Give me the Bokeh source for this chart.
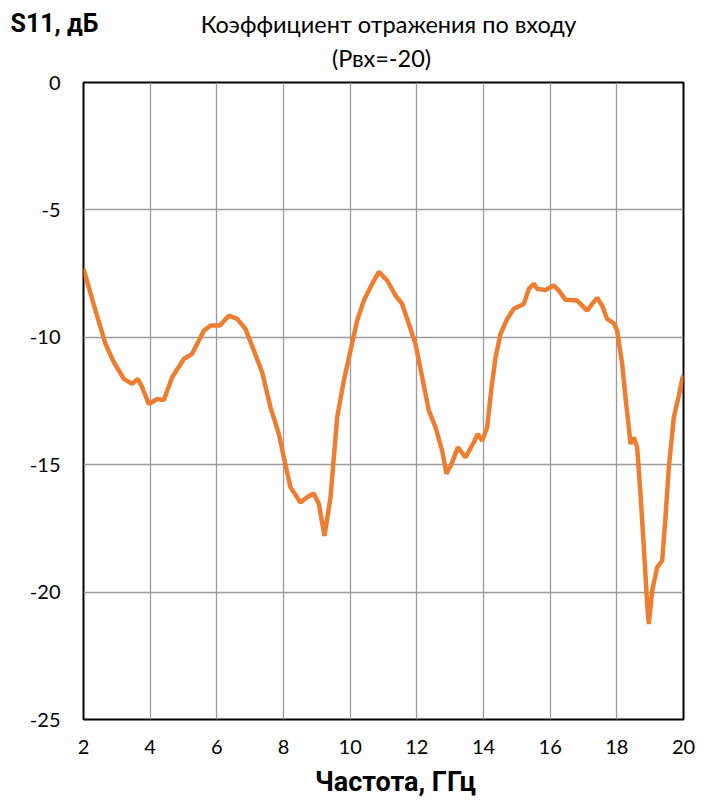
from bokeh.plotting import figure
from bokeh.layouts import column, row
from bokeh.models import FixedTicker, Range1d
from bokeh.core.properties import value
from bokeh.embed import file_html
from bokeh.resources import INLINE

freq_ghz = [2.0, 2.36, 2.66, 2.91, 3.21, 3.46, 3.63, 3.76, 3.96, 4.21, 4.41, 4.66, 5.01, 5.26,
            5.61, 5.81, 6.09, 6.36, 6.61, 6.86, 7.11, 7.36, 7.61, 7.86, 8.01, 8.21, 8.51,
            8.71, 8.91, 9.06, 9.23, 9.41, 9.61, 9.81, 10.01, 10.21, 10.41, 10.66, 10.86,
            11.11, 11.36, 11.56, 11.76, 11.96, 12.16, 12.36, 12.56, 12.76, 12.89, 13.06,
            13.23, 13.46, 13.71, 13.83, 13.96, 14.11, 14.23, 14.36, 14.51, 14.71, 14.91,
            15.21, 15.36, 15.51, 15.61, 15.86, 16.11, 16.26, 16.46, 16.81, 17.11, 17.26,
            17.41, 17.56, 17.71, 17.91, 18.01, 18.16, 18.26, 18.36, 18.41, 18.51, 18.61,
            18.71, 18.81, 18.91, 18.96, 19.06, 19.21, 19.36, 19.46, 19.56, 19.71, 19.86, 19.96, 20.0]
s11_db = [-7.31, -8.95, -10.26, -10.98, -11.63, -11.83, -11.63, -11.96, -12.62, -12.42, -12.46,
          -11.57, -10.85, -10.65, -9.74, -9.54, -9.54, -9.15, -9.28, -9.67, -10.52, -11.37,
          -12.75, -13.79, -14.71, -15.89, -16.48, -16.28, -16.13, -16.54, -17.79, -16.28,
          -13.14, -11.7, -10.52, -9.34, -8.56, -7.9, -7.43,
          -7.77, -8.36, -8.69, -9.47, -10.26, -11.57, -12.88, -13.53, -14.45, -15.36, -14.91,
          -14.32, -14.71, -14.12, -13.79, -14.06, -13.53, -12.09, -10.79, -9.87, -9.28, -8.88,
          -8.69, -8.1, -7.9, -8.1, -8.14, -7.97, -8.17, -8.53, -8.56, -8.95, -8.69,
          -8.45, -8.76, -9.28, -9.45, -9.74, -11.05, -12.36, -13.53, -14.19, -13.93, -14.32,
          -16.15, -18.25, -20.47, -21.25, -19.95, -19.03, -18.77, -17.07, -15.1, -13.14, -12.29, -11.63, -11.5]

x_ticks = [2, 4, 6, 8, 10, 12, 14, 16, 18, 20]
y_ticks = [0, -5, -10, -15, -20, -25]

title_line1 = "Коэффициент отражения по входу"
title_line2 = "(Рвх=-20)"
y_title = "S11, дБ"
x_title = "Частота, ГГц"

W = 701
TOP_H = 70
MAIN_TOP = 12
MAIN_BOT = 40
BOT_H = 38
S11_W = 140


def text_strip(width, height):
    f = figure(width=width, height=height, output_backend="svg", toolbar_location=None,
               x_axis_location=None, y_axis_location=None,
               x_range=Range1d(0, width), y_range=Range1d(height, 0),
               min_border=0, min_border_left=0, min_border_right=0,
               min_border_top=0, min_border_bottom=0)
    f.grid.visible = False
    f.outline_line_color = None
    f.background_fill_color = "white"
    f.border_fill_color = "white"
    return f


# header: y-axis title strip + chart title strip (positions in page pixels)
head_left = text_strip(S11_W, TOP_H)
head_left.text(x=[10], y=[23], text=[y_title], text_font=value("Roboto"), text_font_style="bold",
               text_font_size="25px", text_align="left", text_baseline="middle", text_color="black")
head_right = text_strip(W - S11_W, TOP_H)
head_right.text(x=[388 - S11_W], y=[23], text=[title_line1], text_font=value("Lato"),
                text_font_size="23.5px", text_align="center", text_baseline="middle", text_color="black")
head_right.text(x=[381 - S11_W], y=[57], text=[title_line2], text_font=value("Lato"),
                text_font_size="23.5px", text_align="center", text_baseline="middle", text_color="black")

# main chart
MAIN_H = MAIN_TOP + 637 + MAIN_BOT
p = figure(width=W, height=MAIN_H, output_backend="svg", toolbar_location=None,
           x_range=Range1d(2, 20), y_range=Range1d(-25, 0),
           min_border_left=83, min_border_right=18, min_border_top=MAIN_TOP,
           min_border_bottom=MAIN_BOT)
p.frame_width = 600
p.frame_height = 637
p.outline_line_color = "black"
p.outline_line_width = 2
p.outline_line_alpha = 1

for ax in (p.xaxis[0], p.yaxis[0]):
    ax.axis_line_color = None
    ax.major_tick_line_color = None
    ax.minor_tick_line_color = None
    ax.major_label_text_font = "Lato"
    ax.major_label_text_font_size = "20px"
    ax.major_label_text_color = "black"

p.xaxis[0].ticker = FixedTicker(ticks=x_ticks)
p.yaxis[0].ticker = FixedTicker(ticks=y_ticks)
p.xaxis[0].major_label_overrides = {t: str(t) for t in x_ticks}
p.yaxis[0].major_label_overrides = {t: str(t) for t in y_ticks}
p.xaxis[0].major_label_standoff = 14
p.yaxis[0].major_label_standoff = 17

p.xgrid[0].ticker = FixedTicker(ticks=x_ticks)
p.ygrid[0].ticker = FixedTicker(ticks=y_ticks)
p.grid.grid_line_color = "#9a9a9a"
p.grid.grid_line_width = 1.3

p.line(freq_ghz, s11_db, line_color="#ED7D31", line_width=4.5)

# footer: x-axis title strip
bot = text_strip(W, BOT_H)
bot.text(x=[395], y=[781 - TOP_H - MAIN_H], text=[x_title], text_font=value("Roboto"),
         text_font_style="bold", text_font_size="27px", text_align="center",
         text_baseline="middle", text_color="black")

layout = column(row(head_left, head_right, spacing=0), p, row(bot, spacing=0), spacing=0)
open("out.html", "w").write(file_html(layout, INLINE))
